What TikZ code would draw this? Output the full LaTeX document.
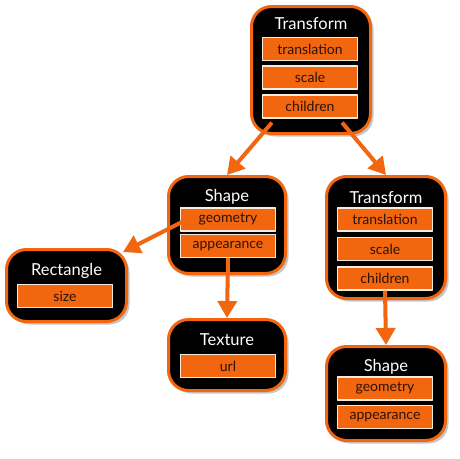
\documentclass[tikz,border=0pt]{standalone}
\usepackage{fontspec}
\setmainfont{Lato}
\usepackage{tikz}
\usetikzlibrary{arrows.meta}
\usetikzlibrary{shadows}
\usetikzlibrary{calc}
\definecolor{orng}{RGB}{242,102,16}
\definecolor{fldline}{RGB}{250,236,220}
\definecolor{fldtext}{RGB}{40,20,10}
\tikzset{box/.style={draw=orng, line width=3pt, fill=black, rounded corners=20pt, inner sep=0pt,
  drop shadow={shadow xshift=3pt, shadow yshift=-3pt, opacity=0.45}}}
\tikzset{ttl/.style={text=white, inner sep=0pt, font=\fontsize{16.5}{16.5}\selectfont}}
\tikzset{fld/.style={draw=fldline, line width=1.2pt, fill=orng, text=fldtext, inner sep=0pt,
  minimum width=95pt, minimum height=23pt, font=\fontsize{14}{14}\selectfont}}
\tikzset{lnk/.style={draw=orng, line width=4pt, -{Triangle[length=17pt,width=19pt]}}}

\begin{document}
\begin{tikzpicture}[x=1pt, y=-1pt, line join=round]
            \useasboundingbox (0,0) rectangle (460,458);

            \node [box, minimum width=119pt, minimum height=127pt] (topT) at (311,70) {};
            \node [ttl] (topTname) at (311,24) {Transform};
            \node [fld] (topTtrans) at (310,49) {translation};
            \node [fld] (topTscale) at (310,77.5) {scale};
            \node [fld] (topTchild) at (310,106.5) {children};

            \node [box, minimum width=117pt, minimum height=97pt] (midS) at (227,225) {};
            \node [ttl] (midSname) at (227,197) {Shape};
            \node [fld] (midSgeom) at (228,219.5) {geometry};
            \node [fld] (midSapp) at (228,246) {appearance};

            \node [box, minimum width=119pt, minimum height=122pt] (rightT) at (386,237.5) {};
            \node [ttl] (rightTname) at (386,198) {Transform};
            \node [fld] (rightTtrans) at (385,219.5) {translation};
            \node [fld] (rightTscale) at (385,249) {scale};
            \node [fld] (rightTchild) at (385,278.5) {children};

            \node [box, minimum width=120pt, minimum height=72pt] (rect) at (66.5,285.5) {};
            \node [ttl] (rectname) at (66.5,271) {Rectangle};
            \node [fld] (rectsize) at (65,296) {size};

            \node [box, minimum width=117pt, minimum height=71pt] (tex) at (227,355) {};
            \node [ttl] (texname) at (227,340) {Texture};
            \node [fld] (texurl) at (228,366) {url};

            \node [box, minimum width=119pt, minimum height=94pt] (botS) at (386,393.5) {};
            \node [ttl] (botSname) at (386,367) {Shape};
            \node [fld] (botSgeom) at (385,388.5) {geometry};
            \node [fld] (botSapp) at (385,417) {appearance};

            \draw [lnk] ([xshift=10pt, yshift=-4pt]topTchild.south west) -- (midS.north);
            \draw [lnk] ([xshift=-16pt, yshift=-4pt]topTchild.south east) -- (rightT.north);
            \draw [lnk] ([xshift=3pt, yshift=-2pt]midSgeom.west) -- ([xshift=-5pt, yshift=-4pt]rect.north east);
            \draw [lnk] (midSapp.south) -- (tex.north);
            \draw [lnk] (rightTchild.south) -- (botS.north);
          \end{tikzpicture}
\end{document}
